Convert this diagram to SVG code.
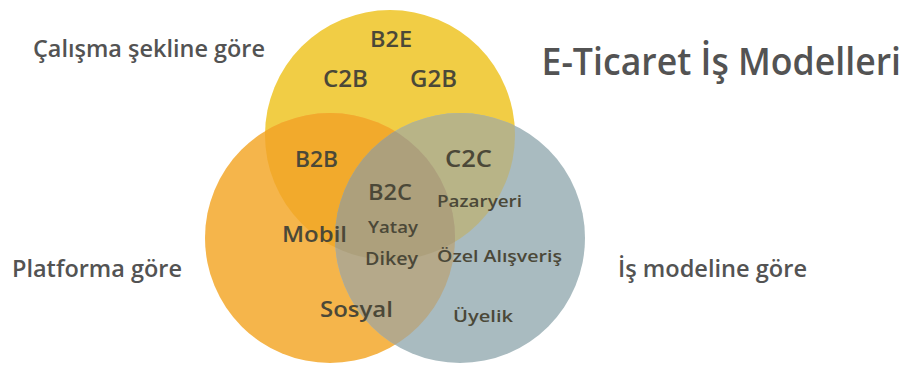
<svg xmlns="http://www.w3.org/2000/svg" width="912" height="367" viewBox="0 0 912 367">
<style>
.out{font-family:"Open Sans","Noto Sans",sans-serif;font-weight:600;fill:#535353;}
.in{font-family:"Open Sans","Noto Sans",sans-serif;font-weight:600;fill:#4b4838;}
</style>
<defs>
<clipPath id="cY"><circle cx="390" cy="135" r="125"/></clipPath>
<clipPath id="cO"><circle cx="330" cy="238" r="125"/></clipPath>
<clipPath id="cYO" clip-path="url(#cY)"><circle cx="330" cy="238" r="125"/></clipPath>
</defs>
<rect width="912" height="367" fill="#ffffff"/>
<g id="circles">
<g id="yellow"><circle cx="390" cy="135" r="125" fill="#F1CD45"/></g>
<g id="orange"><circle cx="330" cy="238" r="125" fill="#F5B54B"/></g>
<g id="grey"><circle cx="460" cy="238" r="125" fill="#A9BBC0"/></g>
<g id="overlaps">
<circle cx="330" cy="238" r="125" fill="#F2AA2C" clip-path="url(#cY)"/>
<circle cx="460" cy="238" r="125" fill="#B8B487" clip-path="url(#cY)"/>
<circle cx="460" cy="238" r="125" fill="#B5A98A" clip-path="url(#cO)"/>
<circle cx="460" cy="238" r="125" fill="#ADA07C" clip-path="url(#cYO)"/>
</g>
</g>
<g id="titles">
<text class="out" x="33" y="57" font-size="24" textLength="232" lengthAdjust="spacingAndGlyphs">Çalışma şekline göre</text>
<text class="out" transform="translate(901,75) scale(1.08,1.17)" font-size="33" text-anchor="end">E-Ticaret İş Modelleri</text>
<text class="out" x="12" y="277" font-size="24" textLength="170" lengthAdjust="spacingAndGlyphs">Platforma göre</text>
<text class="out" x="618" y="277" font-size="24" textLength="189" lengthAdjust="spacingAndGlyphs">İş modeline göre</text>
</g>
<g id="labels">
<text class="in" x="370" y="47" font-size="22" textLength="42" lengthAdjust="spacingAndGlyphs">B2E</text>
<text class="in" x="323" y="87" font-size="23" textLength="45" lengthAdjust="spacingAndGlyphs">C2B</text>
<text class="in" x="410" y="87" font-size="23" textLength="47" lengthAdjust="spacingAndGlyphs">G2B</text>
<text class="in" x="295" y="167" font-size="22" textLength="43" lengthAdjust="spacingAndGlyphs">B2B</text>
<text class="in" x="445" y="167" font-size="23" textLength="47" lengthAdjust="spacingAndGlyphs">C2C</text>
<text class="in" x="368" y="200" font-size="22" textLength="44" lengthAdjust="spacingAndGlyphs">B2C</text>
<text class="in" x="437" y="207" font-size="17" textLength="85" lengthAdjust="spacingAndGlyphs">Pazaryeri</text>
<text class="in" x="282" y="242" font-size="21" textLength="65" lengthAdjust="spacingAndGlyphs">Mobil</text>
<text class="in" x="368" y="233" font-size="17" textLength="50" lengthAdjust="spacingAndGlyphs">Yatay</text>
<text class="in" x="365" y="265" font-size="18" textLength="53" lengthAdjust="spacingAndGlyphs">Dikey</text>
<text class="in" x="437" y="262" font-size="17" textLength="125" lengthAdjust="spacingAndGlyphs">Özel Alışveriş</text>
<text class="in" x="320" y="317" font-size="21" textLength="73" lengthAdjust="spacingAndGlyphs">Sosyal</text>
<text class="in" x="453" y="322" font-size="17" textLength="60" lengthAdjust="spacingAndGlyphs">Üyelik</text>
</g>
</svg>
